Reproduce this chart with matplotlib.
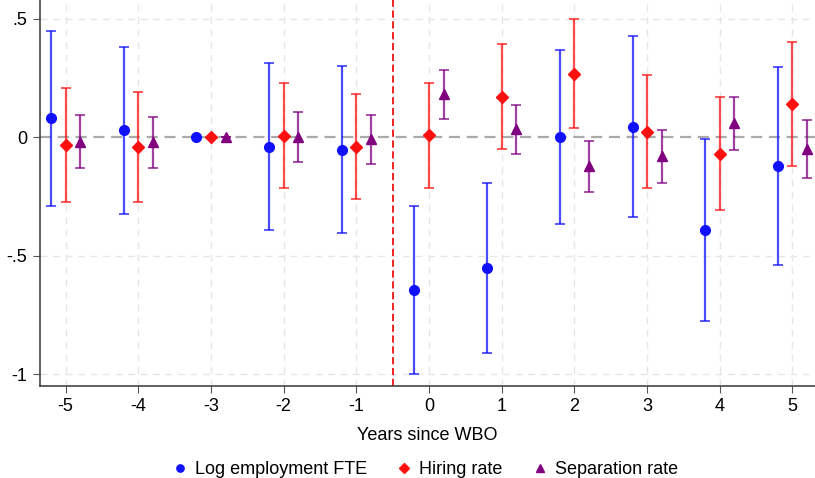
import matplotlib.pyplot as plt

plt.rcParams['font.family'] = ['Liberation Sans', 'DejaVu Sans']
plt.rcParams['axes.unicode_minus'] = False

years = [-5, -4, -3, -2, -1, 0, 1, 2, 3, 4, 5]

# log employment FTE
emp = [0.080, 0.030, 0.0, -0.040, -0.054, -0.643, -0.553, 0.0, 0.043, -0.391, -0.121]
emp_lo = [-0.290, -0.324, 0.0, -0.392, -0.404, -0.997, -0.909, -0.367, -0.338, -0.775, -0.540]
emp_hi = [0.450, 0.382, 0.0, 0.315, 0.302, -0.290, -0.194, 0.367, 0.426, -0.007, 0.297]

# hiring rate
hire = [-0.032, -0.042, 0.0, 0.005, -0.040, 0.008, 0.171, 0.268, 0.024, -0.070, 0.141]
hire_lo = [-0.272, -0.272, 0.0, -0.214, -0.260, -0.213, -0.049, 0.041, -0.214, -0.308, -0.121]
hire_hi = [0.209, 0.190, 0.0, 0.228, 0.183, 0.230, 0.395, 0.498, 0.263, 0.170, 0.402]

# separation rate
sep = [-0.018, -0.021, 0.0, 0.003, -0.006, 0.183, 0.036, -0.121, -0.078, 0.062, -0.048]
sep_lo = [-0.131, -0.131, 0.0, -0.103, -0.113, 0.077, -0.070, -0.231, -0.191, -0.054, -0.173]
sep_hi = [0.095, 0.086, 0.0, 0.105, 0.095, 0.284, 0.138, -0.017, 0.031, 0.170, 0.073]

series = [
    ('Log employment FTE', emp, emp_lo, emp_hi, -0.2, '#1010ff', 'o', 7),
    ('Hiring rate', hire, hire_lo, hire_hi, 0.0, '#ff1010', 'D', 6.5),
    ('Separation rate', sep, sep_lo, sep_hi, 0.2, '#800080', '^', 7),
]

fig = plt.figure(figsize=(8.15, 4.78), dpi=100)
ax = fig.add_axes([0.049, 0.1925, 0.951, 0.8075])

for x in years:
    ax.axvline(x, color='#e6e6e6', lw=1, ls=(0, (5, 4)), zorder=0)
for y in [0.5, -0.5, -1]:
    ax.axhline(y, color='#e6e6e6', lw=1, ls=(0, (5, 4)), zorder=0)
ax.axhline(0, color='#aaaaaa', lw=1.6, ls=(0, (5, 3)), zorder=1)
ax.axvline(-0.5, color='#ee1111', lw=1.3, ls=(0, (4, 2)), zorder=1)

handles = []
for name, est, lo, hi, off, col, mk, ms in series:
    xs = [x + off for x in years]
    yerr = [[e - l for e, l in zip(est, lo)], [h - e for e, h in zip(est, hi)]]
    ax.errorbar(xs, est, yerr=yerr, fmt='none', ecolor=col, alpha=0.75,
                elinewidth=1.6, capsize=3.5, capthick=1.3, zorder=2)
    h, = ax.plot(xs, est, ls='none', marker=mk, color=col, ms=ms, zorder=3,
                 label=name)
    handles.append(h)

ax.set_xlim(-5.353, 5.31)
ax.set_ylim(-1.049, 0.579)
ax.set_xticks(years)
ax.set_yticks([-1, -0.5, 0, 0.5])
ax.set_yticklabels(['-1', '-.5', '0', '.5'])
ax.tick_params(labelsize=13, length=5, color='#555555', pad=4)
for s in ['top', 'right']:
    ax.spines[s].set_visible(False)
for s in ['left', 'bottom']:
    ax.spines[s].set_color('#444444')
    ax.spines[s].set_linewidth(1.2)
ax.set_xlabel('Years since WBO', fontsize=13, labelpad=8)

fig.legend(handles=handles, loc='center', ncol=3, frameon=False,
           fontsize=13, bbox_to_anchor=(0.523, 0.018), handlelength=0.6,
           handletextpad=0.55, columnspacing=1.75, markerscale=0.75)

fig.savefig('out.png', dpi=100)
